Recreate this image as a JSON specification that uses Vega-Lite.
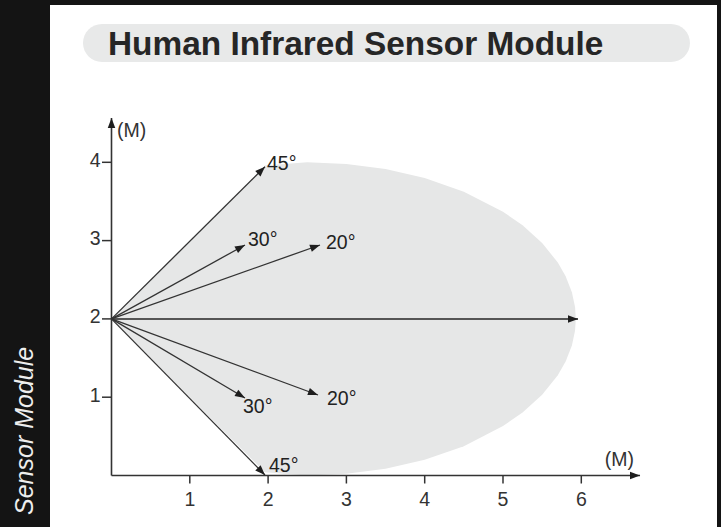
{
  "$schema": "https://vega.github.io/schema/vega-lite/v6.json",
  "width": 667,
  "height": 522,
  "autosize": {"type": "none"},
  "padding": {"left": 50, "top": 5, "right": 4, "bottom": 0},
  "background": "#141414",
  "view": {"fill": "#ffffff", "stroke": null},
  "config": {"font": "Liberation Sans", "axis": {"disable": true}},
  "datasets": {
    "region": [
      {"x": 0, "top": 2, "bottom": 2},
      {"x": 1.96, "top": 3.96, "bottom": 0.04},
      {"x": 2.5, "top": 4.0, "bottom": 0.0},
      {"x": 3.0, "top": 3.979, "bottom": 0.021},
      {"x": 3.5, "top": 3.913, "bottom": 0.087},
      {"x": 4.0, "top": 3.799, "bottom": 0.201},
      {"x": 4.5, "top": 3.625, "bottom": 0.375},
      {"x": 5.0, "top": 3.369, "bottom": 0.631},
      {"x": 5.25, "top": 3.195, "bottom": 0.805},
      {"x": 5.5, "top": 2.97, "bottom": 1.03},
      {"x": 5.7, "top": 2.72, "bottom": 1.28},
      {"x": 5.8, "top": 2.545, "bottom": 1.455},
      {"x": 5.88, "top": 2.34, "bottom": 1.66},
      {"x": 5.92, "top": 2.152, "bottom": 1.848},
      {"x": 5.93, "top": 2.0, "bottom": 2.0}
    ],
    "xticks": [
      {"x": 1, "y": 0, "lab": "1"},
      {"x": 2, "y": 0, "lab": "2"},
      {"x": 3, "y": 0, "lab": "3"},
      {"x": 4, "y": 0, "lab": "4"},
      {"x": 5, "y": 0, "lab": "5"},
      {"x": 6, "y": 0, "lab": "6"}
    ],
    "yticks": [
      {"x": 0, "y": 1, "lab": "1"},
      {"x": 0, "y": 2, "lab": "2"},
      {"x": 0, "y": 3, "lab": "3"},
      {"x": 0, "y": 4, "lab": "4"}
    ],
    "vecs": [
      {"kind": "ray", "x0": 0, "y0": 2, "x": 1.96, "y": 3.944},
      {"kind": "ray", "x0": 0, "y0": 2, "x": 1.705, "y": 2.944},
      {"kind": "ray", "x0": 0, "y0": 2, "x": 2.663, "y": 2.944},
      {"kind": "main", "x0": 0, "y0": 2, "x": 5.958, "y": 2.0},
      {"kind": "ray", "x0": 0, "y0": 2, "x": 1.705, "y": 0.99},
      {"kind": "ray", "x0": 0, "y0": 2, "x": 2.637, "y": 1.028},
      {"kind": "ray", "x0": 0, "y0": 2, "x": 1.96, "y": 0.006},
      {"kind": "axis", "x0": 0, "y0": 0, "x": 6.75, "y": 0},
      {"kind": "axis", "x0": 0, "y0": 0, "x": 0, "y": 4.566}
    ],
    "labels": [
      {"x": 1.986, "y": 3.972, "text": "45°"},
      {"x": 1.743, "y": 3.008, "text": "30°"},
      {"x": 2.739, "y": 2.969, "text": "20°"},
      {"x": 1.679, "y": 0.875, "text": "30°"},
      {"x": 2.752, "y": 0.977, "text": "20°"},
      {"x": 2.011, "y": 0.121, "text": "45°"}
    ],
    "units": [
      {"x": 0.07, "y": 4.4, "text": "(M)"},
      {"x": 6.3, "y": 0.198, "text": "(M)"}
    ],
    "pill": [
      {"x": -0.364, "x2": 7.388, "y": 5.766, "y2": 5.281}
    ],
    "title": [
      {"x": -0.045, "y": 5.37, "text": "Human Infrared Sensor Module"}
    ],
    "side": [
      {"x": -1.0026, "y": -0.504, "text": "Sensor Module"}
    ]
  },
  "layer": [
    {
      "data": {"name": "region"},
      "mark": {"type": "area", "color": "#e6e7e7", "opacity": 1},
      "encoding": {
        "x": {"field": "x", "type": "quantitative", "scale": {"domain": [-0.7854, 7.7331], "nice": false, "zero": false}, "axis": null},
        "y": {"field": "top", "type": "quantitative", "scale": {"domain": [-0.6577, 6.009], "nice": false, "zero": false}, "axis": null},
        "y2": {"field": "bottom"}
      }
    },
    {
      "data": {"name": "pill"},
      "mark": {"type": "rect", "color": "#e8e9e9", "cornerRadius": 19},
      "encoding": {
        "x": {"field": "x", "type": "quantitative", "scale": {"domain": [-0.7854, 7.7331], "nice": false, "zero": false}, "axis": null},
        "x2": {"field": "x2"},
        "y": {"field": "y", "type": "quantitative", "scale": {"domain": [-0.6577, 6.009], "nice": false, "zero": false}, "axis": null},
        "y2": {"field": "y2"}
      }
    },
    {
      "data": {"name": "title"},
      "mark": {"type": "text", "align": "left", "baseline": "alphabetic", "fontSize": 33.4, "fontWeight": "bold", "color": "#262626", "font": "Liberation Sans"},
      "encoding": {
        "x": {"field": "x", "type": "quantitative", "scale": {"domain": [-0.7854, 7.7331], "nice": false, "zero": false}, "axis": null},
        "y": {"field": "y", "type": "quantitative", "scale": {"domain": [-0.6577, 6.009], "nice": false, "zero": false}, "axis": null},
        "text": {"field": "text"}
      }
    },
    {
      "data": {"name": "side"},
      "mark": {"type": "text", "align": "left", "baseline": "alphabetic", "angle": 270, "fontSize": 25, "fontStyle": "italic", "color": "#eeeeee", "font": "Liberation Sans"},
      "encoding": {
        "x": {"field": "x", "type": "quantitative", "scale": {"domain": [-0.7854, 7.7331], "nice": false, "zero": false}, "axis": null},
        "y": {"field": "y", "type": "quantitative", "scale": {"domain": [-0.6577, 6.009], "nice": false, "zero": false}, "axis": null},
        "text": {"field": "text"}
      }
    },
    {
      "data": {"name": "xticks"},
      "mark": {"type": "point", "shape": "M0,0V1", "filled": false, "color": "#333333", "strokeWidth": 1.5, "size": 256, "opacity": 1},
      "encoding": {
        "x": {"field": "x", "type": "quantitative", "scale": {"domain": [-0.7854, 7.7331], "nice": false, "zero": false}, "axis": null},
        "y": {"field": "y", "type": "quantitative", "scale": {"domain": [-0.6577, 6.009], "nice": false, "zero": false}, "axis": null}
      }
    },
    {
      "data": {"name": "xticks"},
      "mark": {"type": "text", "align": "center", "baseline": "middle", "dy": 24, "fontSize": 19.5, "color": "#333333", "font": "Liberation Sans"},
      "encoding": {
        "x": {"field": "x", "type": "quantitative", "scale": {"domain": [-0.7854, 7.7331], "nice": false, "zero": false}, "axis": null},
        "y": {"field": "y", "type": "quantitative", "scale": {"domain": [-0.6577, 6.009], "nice": false, "zero": false}, "axis": null},
        "text": {"field": "lab"}
      }
    },
    {
      "data": {"name": "yticks"},
      "mark": {"type": "point", "shape": "M0,0H-1", "filled": false, "color": "#333333", "strokeWidth": 1.5, "size": 361, "opacity": 1},
      "encoding": {
        "x": {"field": "x", "type": "quantitative", "scale": {"domain": [-0.7854, 7.7331], "nice": false, "zero": false}, "axis": null},
        "y": {"field": "y", "type": "quantitative", "scale": {"domain": [-0.6577, 6.009], "nice": false, "zero": false}, "axis": null}
      }
    },
    {
      "data": {"name": "yticks"},
      "mark": {"type": "text", "align": "right", "baseline": "middle", "dx": -11, "dy": -1.5, "fontSize": 19.5, "color": "#333333", "font": "Liberation Sans"},
      "encoding": {
        "x": {"field": "x", "type": "quantitative", "scale": {"domain": [-0.7854, 7.7331], "nice": false, "zero": false}, "axis": null},
        "y": {"field": "y", "type": "quantitative", "scale": {"domain": [-0.6577, 6.009], "nice": false, "zero": false}, "axis": null},
        "text": {"field": "lab"}
      }
    },
    {
      "data": {"name": "vecs"},
      "transform": [{"filter": "datum.kind === 'axis'"}],
      "mark": {"type": "rule", "color": "#333333", "strokeWidth": 1.6},
      "encoding": {
        "x": {"field": "x0", "type": "quantitative", "scale": {"domain": [-0.7854, 7.7331], "nice": false, "zero": false}, "axis": null},
        "y": {"field": "y0", "type": "quantitative", "scale": {"domain": [-0.6577, 6.009], "nice": false, "zero": false}, "axis": null},
        "x2": {"field": "x"},
        "y2": {"field": "y"}
      }
    },
    {
      "data": {"name": "vecs"},
      "transform": [{"filter": "datum.kind === 'main'"}],
      "mark": {"type": "rule", "color": "#555555", "strokeWidth": 2},
      "encoding": {
        "x": {"field": "x0", "type": "quantitative", "scale": {"domain": [-0.7854, 7.7331], "nice": false, "zero": false}, "axis": null},
        "y": {"field": "y0", "type": "quantitative", "scale": {"domain": [-0.6577, 6.009], "nice": false, "zero": false}, "axis": null},
        "x2": {"field": "x"},
        "y2": {"field": "y"}
      }
    },
    {
      "data": {"name": "vecs"},
      "transform": [{"filter": "datum.kind === 'ray'"}],
      "mark": {"type": "rule", "color": "#333333", "strokeWidth": 1.3},
      "encoding": {
        "x": {"field": "x0", "type": "quantitative", "scale": {"domain": [-0.7854, 7.7331], "nice": false, "zero": false}, "axis": null},
        "y": {"field": "y0", "type": "quantitative", "scale": {"domain": [-0.6577, 6.009], "nice": false, "zero": false}, "axis": null},
        "x2": {"field": "x"},
        "y2": {"field": "y"}
      }
    },
    {
      "data": {"name": "vecs"},
      "transform": [{"calculate": "-atan2(datum.y - datum.y0, datum.x - datum.x0) * 180 / PI", "as": "ang"}],
      "mark": {"type": "point", "shape": "M0,0L-2,-0.75L-2,0.75Z", "filled": true, "color": "#1e1e1e", "size": 100, "opacity": 1, "strokeWidth": 0},
      "encoding": {
        "x": {"field": "x", "type": "quantitative", "scale": {"domain": [-0.7854, 7.7331], "nice": false, "zero": false}, "axis": null},
        "y": {"field": "y", "type": "quantitative", "scale": {"domain": [-0.6577, 6.009], "nice": false, "zero": false}, "axis": null},
        "angle": {"field": "ang", "type": "quantitative", "scale": null}
      }
    },
    {
      "data": {"name": "labels"},
      "mark": {"type": "text", "align": "left", "baseline": "middle", "fontSize": 19.5, "color": "#222222", "font": "Liberation Sans"},
      "encoding": {
        "x": {"field": "x", "type": "quantitative", "scale": {"domain": [-0.7854, 7.7331], "nice": false, "zero": false}, "axis": null},
        "y": {"field": "y", "type": "quantitative", "scale": {"domain": [-0.6577, 6.009], "nice": false, "zero": false}, "axis": null},
        "text": {"field": "text"}
      }
    },
    {
      "data": {"name": "units"},
      "mark": {"type": "text", "align": "left", "baseline": "middle", "fontSize": 19.5, "color": "#333333", "font": "Liberation Sans"},
      "encoding": {
        "x": {"field": "x", "type": "quantitative", "scale": {"domain": [-0.7854, 7.7331], "nice": false, "zero": false}, "axis": null},
        "y": {"field": "y", "type": "quantitative", "scale": {"domain": [-0.6577, 6.009], "nice": false, "zero": false}, "axis": null},
        "text": {"field": "text"}
      }
    }
  ]
}
